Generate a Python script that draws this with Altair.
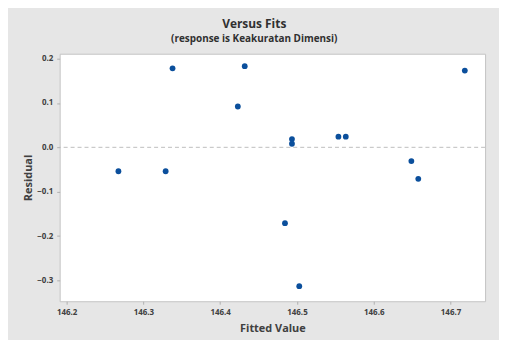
import altair as alt
import pandas as pd

fitted = [146.2675, 146.329, 146.338, 146.432, 146.423, 146.4935, 146.4935,
          146.4844, 146.503, 146.554, 146.5636, 146.649, 146.658, 146.7186]
residual = [-0.054, -0.054, 0.178, 0.183, 0.092, 0.0186, 0.008,
            -0.171, -0.313, 0.024, 0.024, -0.031, -0.071, 0.173]
x_ticks = [146.2, 146.3, 146.4, 146.5, 146.6, 146.7]
y_ticks = [-0.3, -0.2, -0.1, 0.0, 0.1, 0.2]

df = pd.DataFrame({"fitted": fitted, "residual": residual})
zero = pd.DataFrame({"y": [0.0]})

FONT = "Open Sans"

x_enc = alt.X("fitted:Q", title="Fitted Value",
              scale=alt.Scale(domain=[146.191, 146.745], nice=False, zero=False),
              axis=alt.Axis(values=x_ticks, format=".1f", grid=False, tickSize=3,
                            tickColor="#b0b0b0", domain=False, labelFontSize=8,
                            labelColor="#404040", labelFontWeight="bold",
                            titleFontSize=11, titleColor="#404040",
                            titleFontWeight="bold", titlePadding=6, labelPadding=4))
y_enc = alt.Y("residual:Q", title="Residual",
              scale=alt.Scale(domain=[-0.347, 0.211], nice=False, zero=False),
              axis=alt.Axis(values=y_ticks, format=".1f", grid=False, tickSize=3,
                            tickColor="#b0b0b0", domain=False, labelFontSize=8,
                            labelColor="#404040", labelFontWeight="bold",
                            titleFontSize=11, titleColor="#404040",
                            titleFontWeight="bold", titlePadding=3, labelPadding=4))

points = alt.Chart(df).mark_circle(size=34, color="#0b4f9c", opacity=1).encode(
    x=x_enc, y=y_enc)

rule = alt.Chart(zero).mark_rule(color="#bdbdbd", strokeDash=[4, 3], strokeWidth=1).encode(
    y="y:Q")

chart = alt.layer(rule, points).properties(
    width=428, height=249,
    autosize=alt.AutoSizeParams(type="none"),
    padding={"left": 52, "top": 45, "right": 14, "bottom": 38},
    background="#e6e6e6",
    title=alt.TitleParams(text="Versus Fits", subtitle="(response is Keakuratan Dimensi)",
                          anchor="middle", frame="bounds", fontSize=12,
                          fontWeight="bold", color="#303030",
                          subtitleFontSize=10, subtitleFontWeight="bold",
                          subtitleColor="#303030", subtitlePadding=3, offset=9,
                          font=FONT, subtitleFont=FONT),
).configure_view(fill="white", stroke="#c4c4c4", strokeWidth=1).configure_axis(
    labelFont=FONT, titleFont=FONT)

chart.save("out.html", embed_options={"renderer": "svg", "actions": False})
